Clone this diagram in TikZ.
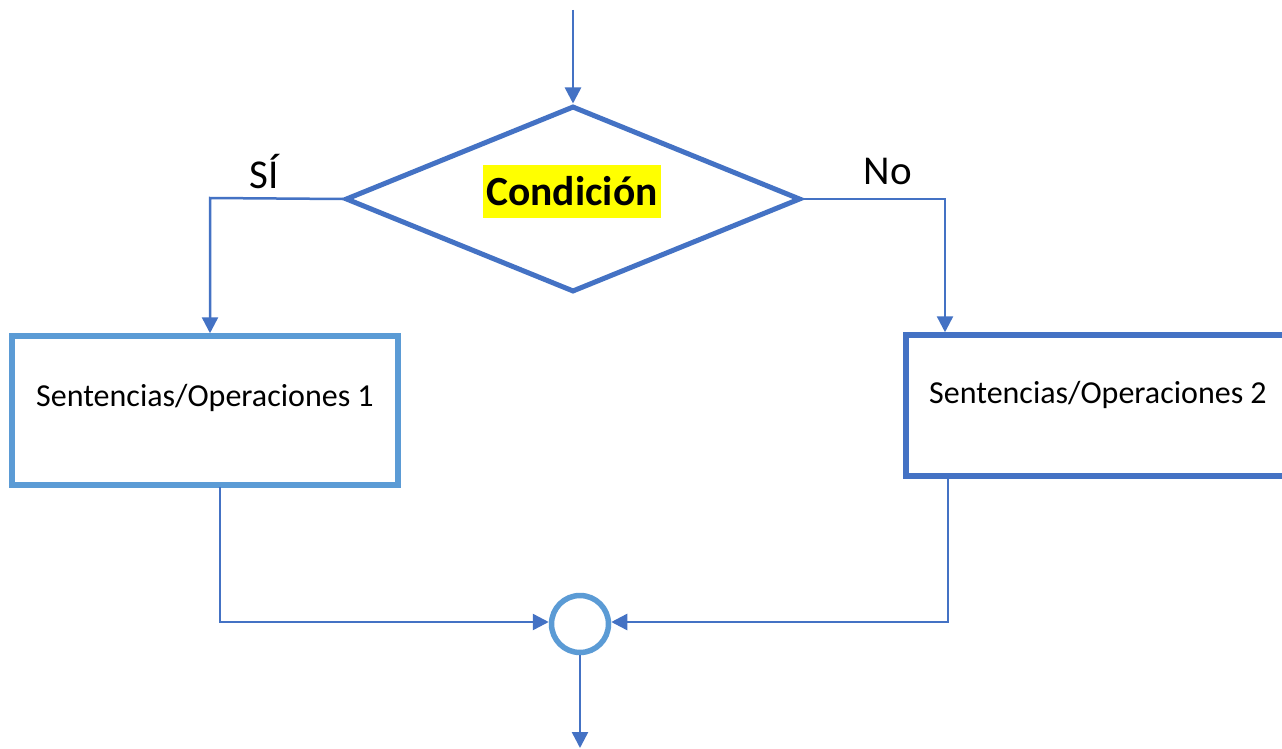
\documentclass[tikz,border=0pt]{standalone}
\usepackage{fontspec}
\setmainfont{Carlito}
\usetikzlibrary{shapes.geometric,arrows.meta}
\definecolor{dblue}{HTML}{4472C4}
\definecolor{lblue}{HTML}{5B9BD5}
\definecolor{hyellow}{HTML}{FFFF00}
\tikzset{
  conn/.style={draw=dblue,line width=2.5pt,-{Triangle[length=16pt,width=16pt]}},
  decision/.style={diamond,draw=dblue,line width=5pt,minimum width=455pt,minimum height=186pt,inner sep=0pt,aspect=2.45},
  boxlight/.style={rectangle,draw=lblue,line width=5.5pt,minimum width=386pt,minimum height=149pt,inner sep=0pt},
  boxdark/.style={rectangle,draw=dblue,line width=5.5pt,minimum width=384pt,minimum height=141pt,inner sep=0pt},
  junction/.style={circle,draw=lblue,line width=5.5pt,minimum size=57pt,inner sep=0pt},
  lbl/.style={font=\fontsize{41}{48}\selectfont,text=black,inner sep=0pt},
  boxtext/.style={font=\fontsize{32}{38}\selectfont,text=black,inner sep=0pt},
  hilite/.style={fill=hyellow,inner xsep=3pt,inner ysep=0pt,minimum height=53pt,font=\fontsize{41.5}{48}\selectfont\bfseries}
}
\begin{document}
\begin{tikzpicture}[x=1pt,y=-1pt]
\useasboundingbox (0,0) rectangle (1282,749);
\fill[white] (0,0) rectangle (1282,749);
\coordinate (start) at (573,10);
\node[decision] (cond) at (573,199) {};
\node[hilite] (ctext) at (572,191.5) {Condición};
\node[boxlight] (b1) at (205,410.5) {};
\node[boxtext] (t1) at (205,398) {Sentencias/Operaciones 1};
\node[boxdark] (b2) at (1098,405.5) {};
\node[boxtext] (t2) at (1098,395) {Sentencias/Operaciones 2};
\node[junction] (j) at (580,624) {};
\coordinate (end) at (580,748);
\node[lbl] (si) at (264,172) {SÍ};
\node[lbl] (no) at (888,171) {No};
\coordinate (lturn) at (210,198);
\coordinate (rturn) at (945,199);
\coordinate (b1out) at (220,487);
\coordinate (b2out) at (948,478);
\coordinate (ljoin) at (220,622);
\coordinate (rjoin) at (948,622);
\draw[conn] (start) -- (cond.north);
\draw[conn] (cond.west) -- (lturn) -- (lturn |- b1.north);
\draw[conn] (cond.east) -- (rturn) -- (rturn |- b2.north);
\draw[conn] (b1out) -- (ljoin) -- (j.west |- ljoin);
\draw[conn] (b2out) -- (rjoin) -- (j.east |- rjoin);
\draw[conn] (j.south) -- (end);
\end{tikzpicture}
\end{document}
